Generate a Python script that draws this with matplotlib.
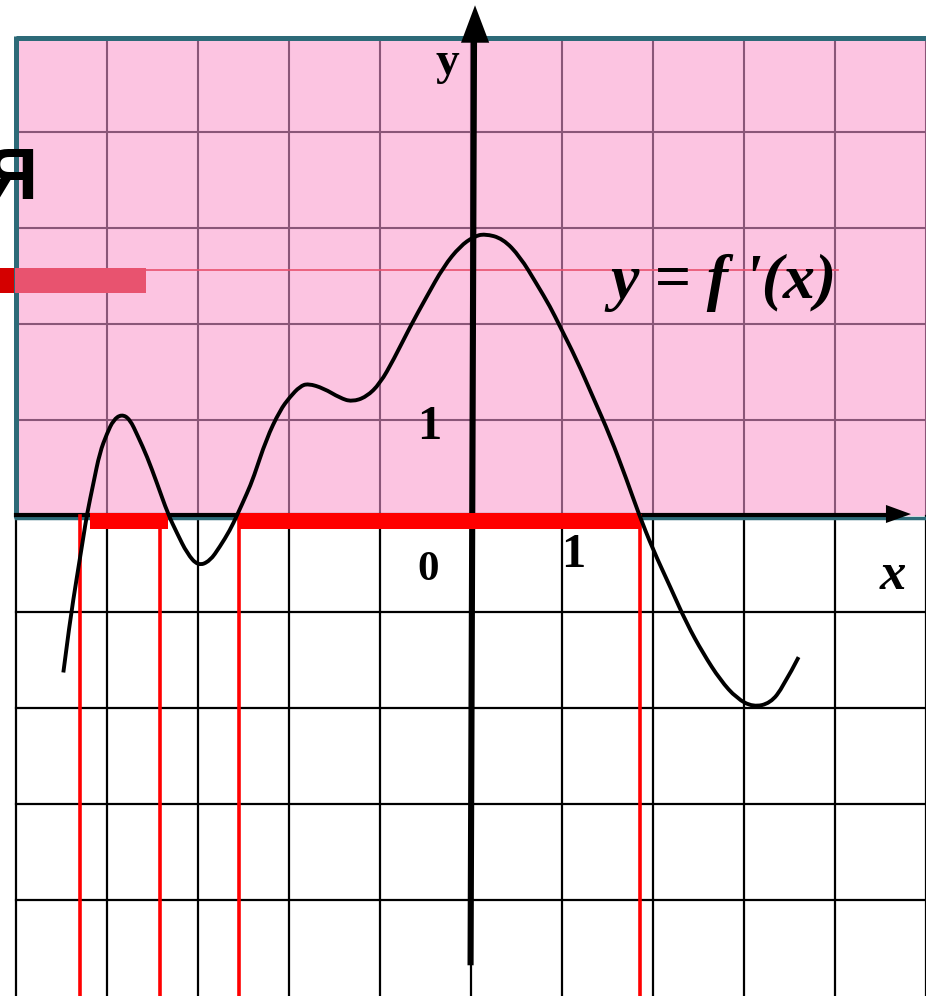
import matplotlib
matplotlib.use("Agg")
import matplotlib.pyplot as plt
from matplotlib.patches import Rectangle, Polygon, PathPatch
from matplotlib.path import Path

# graph of y = f'(x) (grid units)
curve_x = [-4.48, -4.41, -4.33, -4.26, -4.22, -4.15, -4.08, -4.00, -3.93, -3.84,
           -3.75, -3.66, -3.56, -3.45, -3.33, -3.23, -3.12, -3.00, -2.87, -2.76,
           -2.65, -2.57, -2.46, -2.39, -2.25, -2.10, -1.99, -1.88, -1.79, -1.62,
           -1.44, -1.31, -1.15, -1.00, -0.85, -0.67, -0.49, -0.30, -0.12, 0.03,
           0.15, 0.35, 0.54, 0.72, 0.87, 0.98, 1.16, 1.34, 1.53, 1.71,
           1.84, 2.00, 2.19, 2.37, 2.55, 2.74, 2.92, 3.10, 3.29, 3.43, 3.60]
curve_y = [-1.63, -1.11, -0.63, -0.22, 0.02, 0.34, 0.66, 0.86, 1.00, 1.06,
           1.01, 0.83, 0.62, 0.34, 0.02, -0.18, -0.39, -0.52, -0.47, -0.32,
           -0.15, 0.01, 0.24, 0.40, 0.80, 1.10, 1.24, 1.35, 1.38, 1.33,
           1.23, 1.19, 1.24, 1.38, 1.63, 1.97, 2.28, 2.60, 2.81, 2.91,
           2.94, 2.89, 2.70, 2.42, 2.18, 1.97, 1.63, 1.24, 0.83, 0.38,
           0.03, -0.35, -0.74, -1.12, -1.43, -1.71, -1.90, -1.99, -1.95, -1.78, -1.47]

# intervals where f'(x) > 0 marked in red, with their boundary lines
red_bars = [(-4.19, -3.33), (-2.56, 1.86)]
red_lines_x = [-4.30, -3.42, -2.55, 1.86]

grid_x = [-5, -4, -3, -2, -1, 0, 1, 2, 3, 4, 5]
grid_y = [-4, -3, -2, -1, 1, 2, 3, 4]

fig = plt.figure(figsize=(9.26, 9.96), dpi=100)
ax = fig.add_axes([0, 0, 1, 1])
ax.set_xlim(-5.176, 5.0)
ax.set_ylim(-5.0, 5.375)
ax.axis("off")

pink = "#FCC4E1"
pgrid = "#8A5678"
teal = "#2D6A78"

# upper pink half
ax.add_patch(Rectangle((-5, 0), 10, 4.98, facecolor=pink, edgecolor="none", zorder=0))
for gx in grid_x[1:]:
    ax.plot([gx, gx], [0, 4.98], color=pgrid, lw=1.5, zorder=1)
    ax.plot([gx, gx], [-5, 0], color="black", lw=1.6, zorder=1)
ax.plot([-5, -5], [-5, 0], color="black", lw=1.6, zorder=1)
for gy in grid_y:
    c = pgrid if gy > 0 else "black"
    ax.plot([-5, 5], [gy, gy], color=c, lw=1.5 if gy > 0 else 1.6, zorder=1)

# teal frame of pink area
ax.plot([-5, 5], [4.98, 4.98], color=teal, lw=3.6, zorder=2, solid_capstyle="butt")
ax.plot([-5.005, -5.005], [-0.02, 5.0], color=teal, lw=3.6, zorder=2, solid_capstyle="butt")
ax.plot([-5, 5], [-0.025, -0.025], color=teal, lw=2.5, zorder=2)

# decorations on the left
ax.plot([-3.57, 4.03], [2.5625, 2.5625], color="#E8516E", lw=1.2, zorder=2)
ax.add_patch(Rectangle((-5.01, 2.32), 1.44, 0.26, facecolor="#E8536F", edgecolor="none", zorder=2))
ax.add_patch(Rectangle((-5.2, 2.32), 0.18, 0.26, facecolor="#D40000", edgecolor="none", zorder=2))
ax.text(-4.76, 3.30, "Я", fontsize=52, fontweight="bold", family="Liberation Sans",
        ha="right", va="baseline", zorder=3)

# axes with arrows
ax.plot([-5, 4.6], [0.01, 0.01], color="black", lw=3.0, zorder=5)
ax.add_patch(Polygon([[4.56, 0.115], [4.835, 0.02], [4.56, -0.073]], closed=True,
                     facecolor="black", edgecolor="none", zorder=5))
ax.plot([-0.005, 0.033], [-4.68, 4.95], color="black", lw=4.4, zorder=5, solid_capstyle="butt")
ax.add_patch(Polygon([[-0.11, 4.93], [0.044, 5.32], [0.20, 4.93]], closed=True,
                     facecolor="black", edgecolor="none", zorder=5))

# red marks
ax.broken_barh([(a, b - a) for a, b in red_bars], (-0.14, 0.17), facecolor="#FF0000",
               edgecolor="none", zorder=6)
for rx in red_lines_x:
    ax.plot([rx, rx], [-5.1, 0.0], color="#FF0000", lw=2.6, zorder=6)

# smooth stroke: read points used as quadratic control points
pts = list(zip(curve_x, curve_y))
verts = [pts[0]]
codes = [Path.MOVETO]
for i in range(1, len(pts) - 1):
    nxt = pts[i + 1] if i == len(pts) - 2 else ((pts[i][0] + pts[i + 1][0]) / 2,
                                                  (pts[i][1] + pts[i + 1][1]) / 2)
    verts += [pts[i], nxt]
    codes += [Path.CURVE3, Path.CURVE3]
ax.add_patch(PathPatch(Path(verts, codes), facecolor="none", edgecolor="black",
                       lw=2.8, zorder=7, capstyle="butt", joinstyle="round"))

serif = "Liberation Serif"
ax.text(-0.26, 4.72, "y", fontsize=34, fontweight="bold", family=serif, ha="center", va="center", zorder=8)
ax.text(-0.46, 0.93, "1", fontsize=35, fontweight="bold", family=serif, ha="center", va="center", zorder=8)
ax.text(-0.47, -0.56, "0", fontsize=31, fontweight="bold", family=serif, ha="center", va="center", zorder=8)
ax.text(1.12, -0.41, "1", fontsize=35, fontweight="bold", family=serif, ha="center", va="center", zorder=8)
ax.text(4.64, -0.62, "x", fontsize=38, fontweight="bold", style="italic", family=serif,
        ha="center", va="center", zorder=8)
ax.text(2.77, 2.43, "y = f '(x)", fontsize=46, fontweight="bold", style="italic", family=serif,
        ha="center", va="center", zorder=8)

fig.savefig("out.png", dpi=100)
